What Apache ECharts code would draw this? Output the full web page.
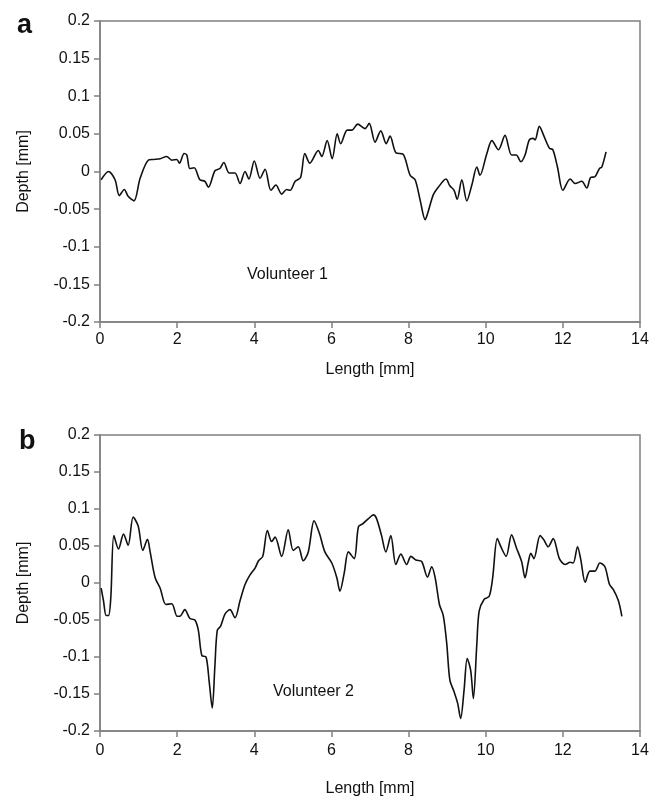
<!DOCTYPE html>
<html><head><meta charset="utf-8">
<script src="https://cdn.jsdelivr.net/npm/echarts@6/dist/echarts.min.js"></script>
<style>html,body{margin:0;padding:0;background:#fff}#c{width:654px;height:798px}</style>
</head><body><div id="c"></div>
<script>
// Volunteer 1 profile: [length mm, depth mm]
const v1X = [0.03,0.22,0.39,0.50,0.63,0.73,0.88,1.04,1.25,1.38,1.56,1.73,1.86,1.99,2.06,2.18,2.25,2.33,2.44,2.59,2.72,2.81,2.98,3.11,3.21,3.35,3.50,3.63,3.76,3.86,4.00,4.15,4.28,4.43,4.56,4.71,4.84,4.93,5.06,5.20,5.31,5.44,5.66,5.75,5.89,6.02,6.15,6.24,6.41,6.53,6.68,6.87,6.98,7.13,7.28,7.42,7.52,7.67,7.86,8.04,8.17,8.30,8.43,8.51,8.64,8.77,8.97,9.07,9.18,9.26,9.38,9.51,9.64,9.77,9.85,10.03,10.16,10.33,10.50,10.67,10.79,10.91,11.02,11.13,11.23,11.28,11.39,11.51,11.65,11.74,11.86,12.00,12.19,12.32,12.49,12.62,12.72,12.83,12.95,13.01,13.12];
const v1Y = [-0.011,0.0,-0.011,-0.032,-0.024,-0.033,-0.039,-0.009,0.015,0.016,0.017,0.020,0.015,0.016,0.011,0.024,0.022,0.004,0.005,-0.011,-0.013,-0.021,0.001,0.004,0.012,-0.002,-0.002,-0.016,0.0,-0.010,0.014,-0.009,0.003,-0.025,-0.018,-0.030,-0.024,-0.025,-0.013,-0.008,0.024,0.011,0.028,0.020,0.041,0.017,0.050,0.037,0.055,0.055,0.063,0.057,0.064,0.039,0.054,0.037,0.047,0.025,0.023,-0.005,-0.011,-0.038,-0.064,-0.053,-0.031,-0.021,-0.010,-0.019,-0.025,-0.037,-0.011,-0.039,-0.018,0.006,-0.005,0.024,0.041,0.029,0.048,0.022,0.022,0.013,0.022,0.042,0.044,0.042,0.060,0.047,0.031,0.029,0.006,-0.025,-0.010,-0.016,-0.013,-0.022,-0.008,-0.007,0.004,0.006,0.026];
// Volunteer 2 profile
const v2X = [0.03,0.09,0.16,0.22,0.28,0.36,0.48,0.61,0.73,0.86,0.99,1.11,1.23,1.30,1.43,1.56,1.71,1.86,2.00,2.07,2.20,2.33,2.46,2.55,2.64,2.75,2.83,2.91,2.98,3.04,3.13,3.24,3.37,3.50,3.63,3.76,3.89,4.02,4.11,4.22,4.34,4.45,4.54,4.71,4.88,5.01,5.14,5.27,5.40,5.55,5.69,5.83,6.01,6.14,6.22,6.33,6.44,6.59,6.70,6.81,6.96,7.09,7.17,7.30,7.41,7.54,7.67,7.80,7.95,8.06,8.19,8.34,8.49,8.60,8.69,8.80,8.90,8.99,9.07,9.18,9.27,9.35,9.44,9.52,9.61,9.68,9.77,9.83,9.96,10.09,10.18,10.30,10.41,10.53,10.67,10.80,10.93,11.02,11.10,11.17,11.25,11.41,11.51,11.62,11.75,11.91,12.06,12.19,12.27,12.38,12.46,12.58,12.70,12.83,12.96,13.09,13.21,13.31,13.44,13.53];
const v2Y = [-0.007,-0.024,-0.044,-0.044,-0.020,0.064,0.046,0.066,0.051,0.089,0.077,0.044,0.059,0.042,0.007,-0.007,-0.029,-0.028,-0.045,-0.045,-0.036,-0.048,-0.050,-0.064,-0.098,-0.100,-0.133,-0.169,-0.111,-0.064,-0.058,-0.042,-0.036,-0.047,-0.024,-0.002,0.011,0.020,0.030,0.036,0.071,0.056,0.062,0.036,0.072,0.044,0.049,0.030,0.042,0.084,0.067,0.042,0.027,0.007,-0.011,0.013,0.042,0.033,0.076,0.080,0.087,0.092,0.087,0.064,0.042,0.064,0.025,0.039,0.025,0.036,0.031,0.029,0.008,0.022,0.007,-0.029,-0.044,-0.082,-0.131,-0.147,-0.162,-0.183,-0.144,-0.102,-0.118,-0.156,-0.082,-0.038,-0.022,-0.018,0.007,0.060,0.047,0.036,0.065,0.047,0.029,0.007,0.027,0.040,0.033,0.064,0.058,0.049,0.060,0.033,0.025,0.028,0.027,0.049,0.033,0.001,0.016,0.016,0.027,0.022,-0.002,-0.009,-0.024,-0.045];
const xTicks = {min: 0, max: 14, interval: 2};
const yTicks = {min: -0.2, max: 0.2, interval: 0.05};
const panelLetters = ['a', 'b'];
const panelNames = ['Volunteer 1', 'Volunteer 2'];

const zip = (xs, ys) => xs.map((x, i) => [x, ys[i]]);
const font = 'Liberation Sans, Arial, sans-serif';
const axisCol = '#808080';
function xAxis(gi) {
  return {type: 'value', gridIndex: gi, min: xTicks.min, max: xTicks.max, interval: xTicks.interval,
    name: 'Length [mm]', nameLocation: 'middle', nameGap: gi === 0 ? 40 : 50,
    nameTextStyle: {color: '#111', fontSize: 16, fontFamily: font},
    axisLine: {show: true, onZero: false, lineStyle: {color: axisCol, width: 1.5}},
    axisTick: {show: true, length: 6, lineStyle: {color: axisCol, width: 1.5}},
    axisLabel: {color: '#111', fontSize: 16, fontFamily: font, margin: gi === 0 ? 10 : 12},
    splitLine: {show: false}};
}
function yAxis(gi) {
  return {type: 'value', gridIndex: gi, min: yTicks.min, max: yTicks.max, interval: yTicks.interval,
    name: 'Depth [mm]', nameLocation: 'middle', nameGap: 68, nameRotate: 90,
    nameTextStyle: {color: '#111', fontSize: 16, fontFamily: font},
    axisLine: {show: true, onZero: false, lineStyle: {color: axisCol, width: 1.5}},
    axisTick: {show: true, length: 6, lineStyle: {color: axisCol, width: 1.5}},
    axisLabel: {color: '#111', fontSize: 16, fontFamily: font, margin: 10},
    splitLine: {show: false}};
}
const chart = echarts.init(document.getElementById('c'), null, {renderer: 'canvas'});
chart.setOption({
  backgroundColor: '#fff',
  animation: false,
  grid: [
    {left: 100, right: 14, top: 21, height: 301, show: true, borderColor: axisCol, borderWidth: 1.5},
    {left: 100, right: 14, top: 435, height: 299, show: true, borderColor: axisCol, borderWidth: 1.5}
  ],
  xAxis: [xAxis(0), xAxis(1)],
  yAxis: [yAxis(0), yAxis(1)],
  graphic: [
    {type: 'text', left: 17, top: 12, style: {text: panelLetters[0], font: 'bold 27px ' + font, fill: '#111'}},
    {type: 'text', left: 19, top: 428, style: {text: panelLetters[1], font: 'bold 27px ' + font, fill: '#111'}},
    {type: 'text', left: 247, top: 267, style: {text: panelNames[0], font: '16px ' + font, fill: '#111'}},
    {type: 'text', left: 273, top: 684, style: {text: panelNames[1], font: '16px ' + font, fill: '#111'}}
  ],
  series: [
    {type: 'line', xAxisIndex: 0, yAxisIndex: 0, data: zip(v1X, v1Y), showSymbol: false, smooth: 0.3,
      lineStyle: {color: '#111', width: 1.6}},
    {type: 'line', xAxisIndex: 1, yAxisIndex: 1, data: zip(v2X, v2Y), showSymbol: false, smooth: 0.3,
      lineStyle: {color: '#111', width: 1.6}}
  ]
});
</script></body></html>
